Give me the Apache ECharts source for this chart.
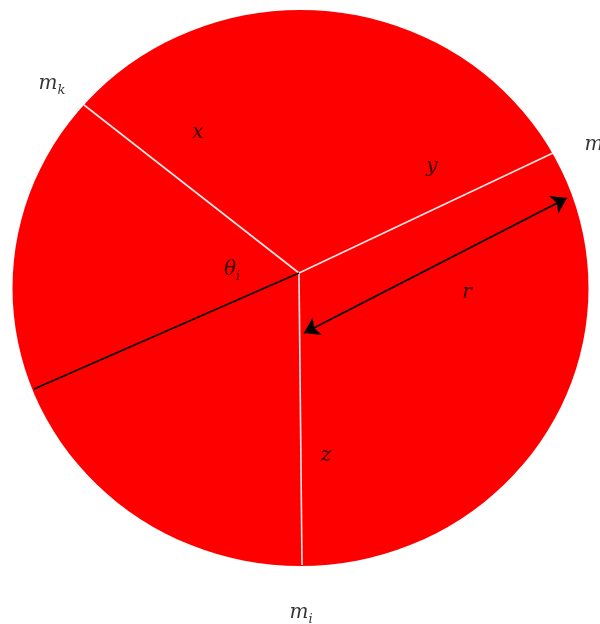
<!DOCTYPE html>
<html>
<head>
<meta charset="utf-8">
<script src="https://cdn.jsdelivr.net/npm/echarts@6/dist/echarts.min.js"></script>
<style>
  html, body { margin: 0; padding: 0; background: #fff; }
  #chart { width: 600px; height: 624px; }
</style>
</head>
<body>
<div id="chart"></div>
<script>
// coordinates: origin at disc centre, x to the right, y up (1 unit = 1 px)
const discCentre = [0.5, 0];
const discRadii = [288, 278];

const hub = [-1, 15];
const whiteEnds = [[-216, 183], [253, 135], [2, -277]];   // towards m_k, m_j, m_i
const blackEnd = [-266, -101];
const arrowEnds = [[4, -45], [267, 90]];                  // the r arrow

const labelText = ['m_k', 'm_j', 'm_i', 'θ_i', 'x', 'y', 'z', 'r'];
const labelPos = [[-248, 204], [296, 143], [1, -325], [-68, 18], [-102, 155], [132, 121], [26, -168], [167, -5]];

const toRich = t => {
    const p = t.split('_');
    return p.length > 1 ? '{v|' + p[0] + '}{s|' + p[1] + '}' : '{v|' + p[0] + '}';
};

const initChart = () => {
    const chart = echarts.init(document.getElementById('chart'));

    const segments = whiteEnds.map(e => ({
        coords: [hub, e],
        lineStyle: { color: '#ffffff', width: 1.6, opacity: 0.9 }
    }));
    segments.push({ coords: [hub, blackEnd], lineStyle: { color: '#000000', width: 1.6, opacity: 1 } });

    chart.setOption({
        animation: false,
        grid: { left: 0, right: 0, top: 0, bottom: 0 },
        xAxis: { type: 'value', min: -300, max: 300, show: false },
        yAxis: { type: 'value', min: -336, max: 288, show: false },
        series: [
            {
                type: 'custom',
                silent: true,
                data: [[discCentre[0], discCentre[1], discRadii[0], discRadii[1]]],
                renderItem: (params, api) => {
                    const c = api.coord([api.value(0), api.value(1)]);
                    const s = api.size([api.value(2), api.value(3)]);
                    return {
                        type: 'circle',
                        x: c[0],
                        y: c[1],
                        scaleY: s[1] / s[0],
                        shape: { cx: 0, cy: 0, r: s[0] },
                        style: { fill: '#ff0000' }
                    };
                }
            },
            {
                type: 'lines',
                coordinateSystem: 'cartesian2d',
                silent: true,
                symbol: 'none',
                data: segments
            },
            {
                type: 'lines',
                coordinateSystem: 'cartesian2d',
                silent: true,
                symbol: ['arrow', 'arrow'],
                symbolSize: 15,
                lineStyle: { color: '#000000', width: 1.8, opacity: 1 },
                itemStyle: { color: '#000000' },
                data: [{ coords: arrowEnds }]
            },
            {
                type: 'scatter',
                silent: true,
                symbolSize: 0,
                data: labelPos.map((p, i) => ({ value: p, name: labelText[i] })),
                label: {
                    show: true,
                    position: 'inside',
                    formatter: p => toRich(p.name),
                    rich: {
                        v: { fontFamily: 'DejaVu Serif', fontStyle: 'italic', fontSize: 20, color: '#000', lineHeight: 26 },
                        s: { fontFamily: 'DejaVu Serif', fontStyle: 'italic', fontSize: 13, color: '#000', verticalAlign: 'bottom', lineHeight: 15 }
                    }
                }
            }
        ]
    });
};

window.addEventListener('load', initChart);
</script>
</body>
</html>
